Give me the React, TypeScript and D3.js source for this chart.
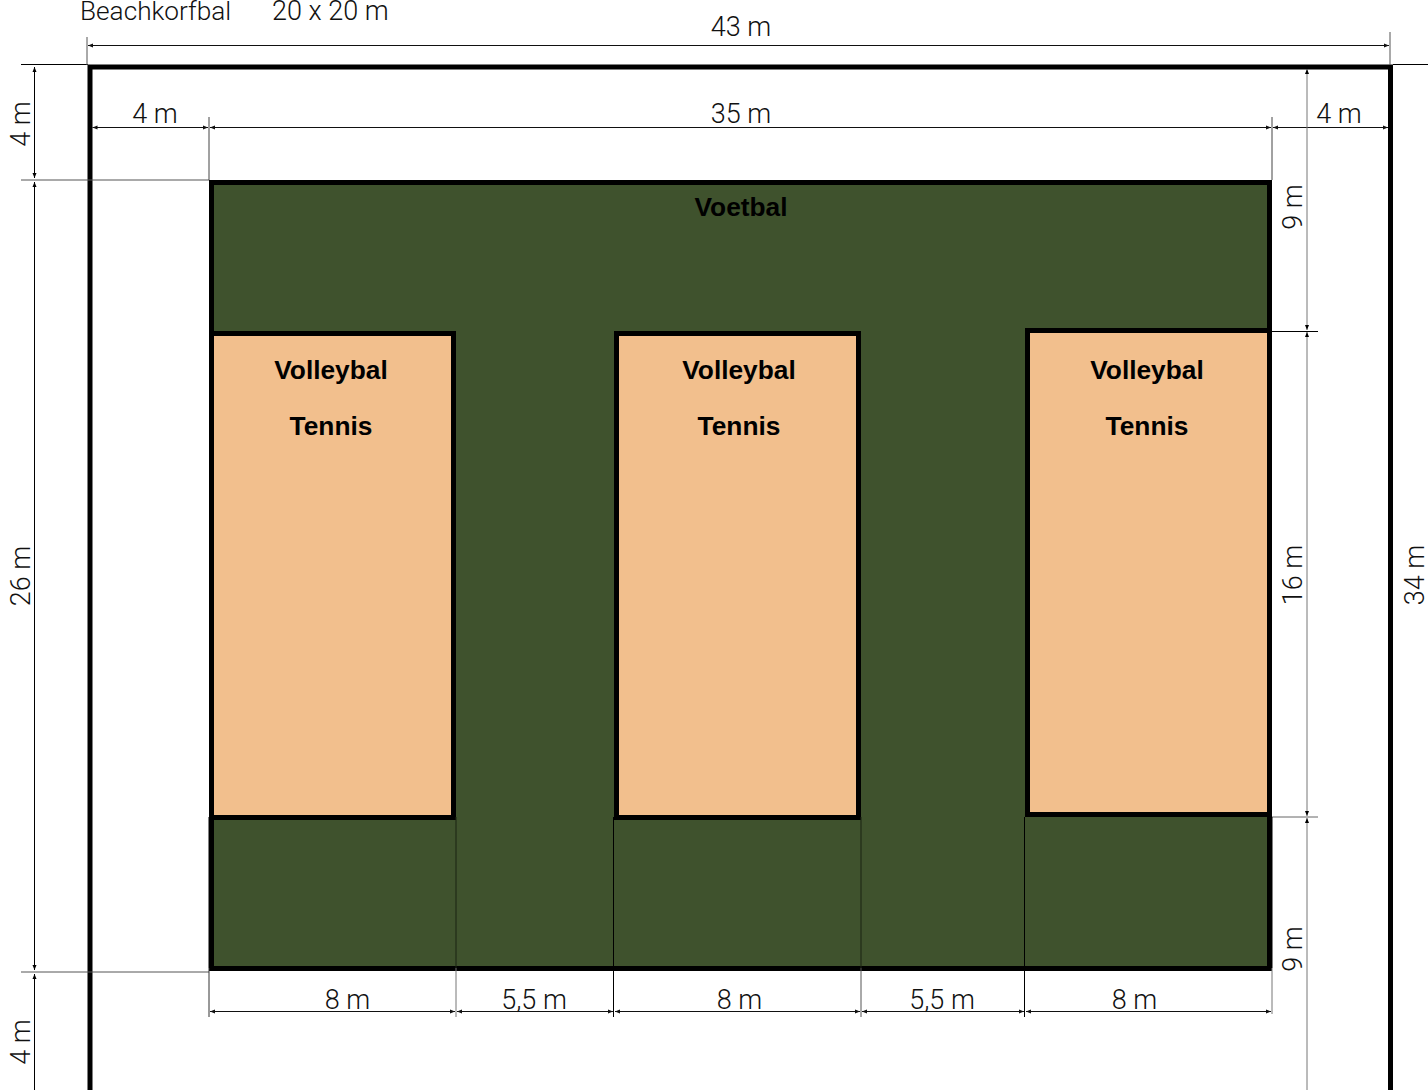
import React from "react";
import * as d3 from "d3";

// Data: field segments in metres
const widthSpans = [4, 8, 5.5, 8, 5.5, 8, 4];
const depthSpans = [4, 9, 16, 9, 4];
const topLabels = ["4 m", "35 m", "4 m"];
const bottomLabels = ["8 m", "5,5 m", "8 m", "5,5 m", "8 m"];
const courtStarts = [4, 17.5, 31];
const courtWidth = 8;
const courtNames = ["Volleybal", "Tennis"];
const headline = ["Beachkorfbal", "20 x 20 m"];

const xStops = [0, ...d3.cumsum(widthSpans)];
const yStops = [0, ...d3.cumsum(depthSpans)];
const x = d3.scaleLinear().domain(xStops).range([88, 209, 456, 614, 861, 1025, 1272, 1390]);
const y = d3.scaleLinear().domain(yStops).range([65, 180, 331, 817, 972, 1096]);

const FONT = "Roboto, 'Liberation Sans', Arial, sans-serif";
const BOLD = "'Liberation Sans', Arial, sans-serif";
const GREEN = "#3f522d";
const SAND = "#f2bf8d";

function HDim({ x1, x2, yy }: { x1: number; x2: number; yy: number }) {
  return (
    <g>
      <line x1={x1} x2={x2} y1={yy} y2={yy} stroke="#111" strokeWidth={1} />
      <path d={`M${x1},${yy}l5,-2v4z`} fill="#111" />
      <path d={`M${x2},${yy}l-5,-2v4z`} fill="#111" />
    </g>
  );
}
function VDim({ y1, y2, xx, c = "#000" }: { y1: number; y2: number; xx: number; c?: string }) {
  return (
    <g>
      <line x1={xx} x2={xx} y1={y1} y2={y2} stroke={c} strokeWidth={1} />
      <path d={`M${xx},${y1}l-2,5h4z`} fill="#000" />
      <path d={`M${xx},${y2}l-2,-5h4z`} fill="#000" />
    </g>
  );
}
const Ln = ({ a, b, c, d, s = "#333" }: { a: number; b: number; c: number; d: number; s?: string }) => (
  <line x1={a} y1={b} x2={c} y2={d} stroke={s} strokeWidth={1} />
);
function Label({ t, px, py, rot }: { t: string; px: number; py: number; rot?: boolean }) {
  return (
    <text
      x={px}
      y={py}
      transform={rot ? `rotate(-90 ${px} ${py})` : undefined}
      textAnchor="middle"
      fontFamily={FONT}
      fontWeight={300}
      fontSize={27}
      fill="#111"
    >
      {t}
    </text>
  );
}
function Bold({ t, px, py }: { t: string; px: number; py: number }) {
  return (
    <text x={px} y={py} textAnchor="middle" fontFamily={BOLD} fontWeight={700} fontSize={26.3} fill="#000">
      {t}
    </text>
  );
}

export default function App() {
  const L = x(xStops[1]);
  const R = x(xStops[6]);
  const T = y(yStops[1]);
  const B = y(yStops[4]);
  const outerL = x(0) + 2.5;
  const outerR = x(43) + 0.5;
  const bottomOffsets = [15, -1, 2, -1, -14];
  const topCentres = [155, 741, 1339];
  const courtShift = [0, 0, -3];
  const courtLabelX = [331, 739, 1147];
  const tickBelow = ["#333", "#777", "#000", "#555", "#000", "#777"];
  const tickOnGreen = ["#000", "#1a2212", "#000", "#1a2212", "#000", "#000"];
  const tickShift = [0, 0, -0.5, 0, -0.5, 0];
  return (
    <svg
      width={1428}
      height={1090}
      viewBox="0 0 1428 1090"
      style={{ position: "absolute", left: 0, top: 0, display: "block" }}
    >
      <rect width={1428} height={1090} fill="#fff" />

      {/* outer field */}
      <rect x={outerL - 0.5} y={y(0) + 2} width={outerR - outerL + 0.5} height={1200} fill="none" stroke="#000" strokeWidth={5} />

      {/* football pitch */}
      <rect x={L + 2.5} y={T + 2.5} width={R - L - 5} height={B - T - 6} fill={GREEN} stroke="#000" strokeWidth={5} />

      {/* courts */}
      {courtStarts.map((s, i) => {
        const a = x(s);
        const b = x(s + courtWidth);
        const top = y(yStops[2]) + courtShift[i];
        const bot = y(yStops[3]) + 3 + courtShift[i];
        return (
          <rect key={i} x={a + 2.5} y={top + 2.5} width={b - a - 5} height={bot - top - 5} fill={SAND} stroke="#000" strokeWidth={5} />
        );
      })}

      {/* extension lines */}
      <Ln a={21} b={y(0) - 0.5} c={x(0)} d={y(0) - 0.5} s="#000" />
      <Ln a={1393} b={y(0) - 0.5} c={1428} d={y(0) - 0.5} s="#000" />
      <Ln a={21} b={T} c={L} d={T} s="#555" />
      <Ln a={21} b={B} c={L} d={B} s="#555" />
      <Ln a={x(0) - 1} b={37} c={x(0) - 1} d={y(0)} s="#555" />
      <Ln a={x(43)} b={32} c={x(43)} d={y(0)} s="#555" />
      <Ln a={L} b={117} c={L} d={T} s="#444" />
      <Ln a={R} b={117} c={R} d={T} s="#444" />
      <Ln a={R} b={y(yStops[2]) + 0.5} c={1318} d={y(yStops[2]) + 0.5} s="#000" />
      <Ln a={R} b={y(yStops[3])} c={1318} d={y(yStops[3])} s="#666" />
      {xStops.slice(1, 7).map((v, i) => (
        <g key={i}>
          <Ln a={x(v) + tickShift[i]} b={y(yStops[3])} c={x(v) + tickShift[i]} d={B - 4} s={tickOnGreen[i]} />
          <Ln a={x(v) + tickShift[i]} b={B - 4} c={x(v) + tickShift[i]} d={i === 5 ? 1014 : 1017} s={tickBelow[i]} />
        </g>
      ))}

      {/* dimension lines */}
      <HDim x1={x(0)} x2={x(43) - 1} yy={45.5} />
      <HDim x1={outerL + 2} x2={L - 1} yy={127.5} />
      <HDim x1={L + 1} x2={R - 1} yy={127.5} />
      <HDim x1={R + 1} x2={1388} yy={127.5} />
      {xStops.slice(1, 6).map((v, i) => (
        <HDim key={i} x1={x(v) + 1} x2={x(xStops[i + 2]) - 1} yy={1011.5} />
      ))}
      <VDim xx={34.5} y1={y(0) + 2} y2={T - 2} />
      <VDim xx={34.5} y1={T + 2} y2={B - 2} />
      <VDim xx={34.5} y1={B + 2} y2={1120} />
      <VDim xx={1307} y1={y(0) + 4} y2={y(yStops[2]) - 1} c="#777" />
      <VDim xx={1307} y1={y(yStops[2]) + 1} y2={y(yStops[3]) - 1} c="#777" />
      <VDim xx={1307} y1={y(yStops[3]) + 1} y2={1120} c="#777" />

      {/* dimension labels */}
      <Label t="43 m" px={741} py={36} />
      {topLabels.map((t, i) => (
        <Label key={i} t={t} px={topCentres[i]} py={123} />
      ))}
      {bottomLabels.map((t, i) => (
        <Label key={i} t={t} px={(x(xStops[i + 1]) + x(xStops[i + 2])) / 2 + bottomOffsets[i]} py={1009} />
      ))}
      <Label t={`${depthSpans[0]} m`} px={30} py={124} rot />
      <Label t="26 m" px={30} py={576} rot />
      <Label t={`${depthSpans[4]} m`} px={30} py={1042} rot />
      <Label t={`${depthSpans[1]} m`} px={1302} py={207} rot />
      <Label t={`${depthSpans[2]} m`} px={1302} py={575} rot />
      <Label t={`${depthSpans[3]} m`} px={1302} py={949} rot />
      <Label t="34 m" px={1424} py={575} rot />

      {/* headline */}
      <text x={80} y={20} fontFamily={FONT} fontWeight={300} fontSize={26.2} fill="#111">{headline[0]}</text>
      <text x={272} y={20} fontFamily={FONT} fontWeight={300} fontSize={27} fill="#111">{headline[1]}</text>

      {/* names */}
      <Bold t="Voetbal" px={741} py={216} />
      {courtLabelX.map((cx, i) => (
        <g key={i}>
          <Bold t={courtNames[0]} px={cx} py={379} />
          <Bold t={courtNames[1]} px={cx} py={435} />
        </g>
      ))}
    </svg>
  );
}
